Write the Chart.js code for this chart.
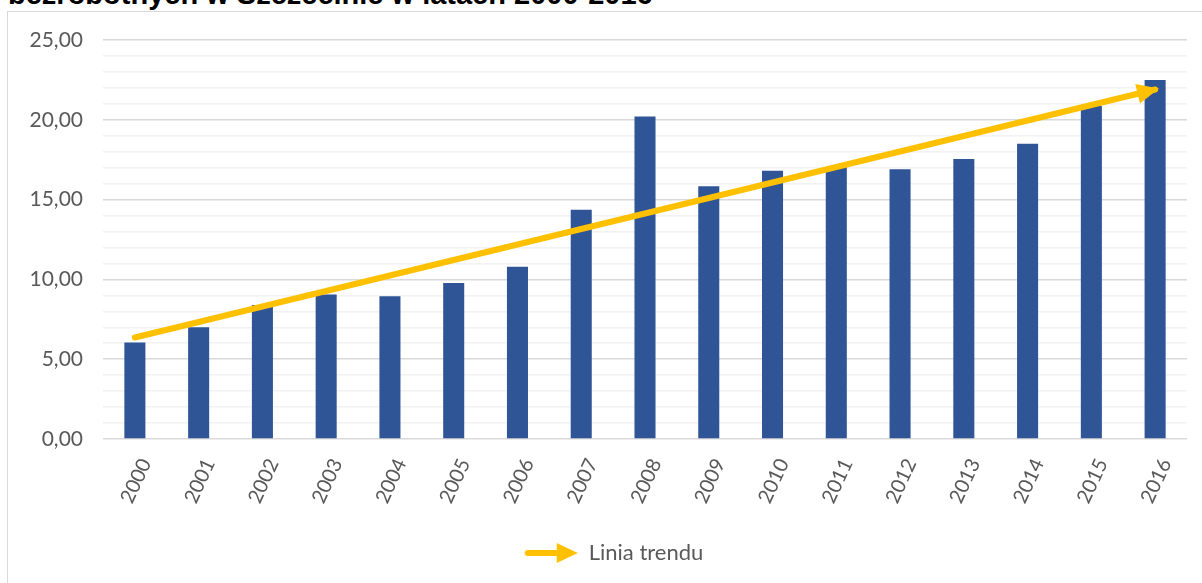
<!DOCTYPE html>
<html>
<head>
<meta charset="utf-8">
<script src="https://cdn.jsdelivr.net/npm/chart.js@4"></script>
<style>
  html, body { margin: 0; padding: 0; background: #fff; overflow: hidden; width: 1202px; height: 583px; }
  #tytul {
    position: absolute; left: 8px; top: -20px; white-space: nowrap;
    font: bold 29px "Liberation Sans", Arial, sans-serif; color: #000; line-height: 29px;
  }
  #ramka {
    position: absolute; left: 7px; top: 11px; width: 1211px; height: 580px;
    border: 1px solid #d9d9d9; background: #fff;
  }
</style>
</head>
<body>
<div id="tytul">bezrobotnych w Szczecinie w latach 2000-2016</div>
<div id="ramka"><canvas id="wykres"></canvas></div>
<script>
// lata i wartości
const lata = ['2000', '2001', '2002', '2003', '2004', '2005', '2006', '2007', '2008',
  '2009', '2010', '2011', '2012', '2013', '2014', '2015', '2016'];
const wartosci = [6.05, 7.0, 8.4, 9.05, 8.95, 9.78, 10.8, 14.37, 20.2,
  15.83, 16.81, 17.05, 16.9, 17.55, 18.5, 20.87, 22.49];
// linia trendu: tylko początek i koniec (strzałka)
const trend = [6.36, null, null, null, null, null, null, null, null,
  null, null, null, null, null, null, null, 21.9];

const NIEBIESKI = '#2F5597';
const ZOLTY = '#FFC000';
const SZARY = '#595959';

// ikonka strzałki do legendy
function ikonaStrzalki() {
  const c = document.createElement('canvas');
  c.width = 54; c.height = 22;
  const g = c.getContext('2d');
  g.strokeStyle = ZOLTY; g.fillStyle = ZOLTY;
  g.lineWidth = 6; g.lineCap = 'round';
  g.beginPath(); g.moveTo(4, 11); g.lineTo(36, 11); g.stroke();
  g.beginPath(); g.moveTo(54, 11); g.lineTo(33, 1); g.lineTo(33, 21); g.closePath(); g.fill();
  return c;
}

// grot strzałki na końcu linii trendu
const grotPlugin = {
  id: 'grot',
  afterDatasetsDraw(chart) {
    const meta = chart.getDatasetMeta(1);
    const pts = meta.data.filter((p, i) => trend[i] !== null);
    const a = pts[0], b = pts[pts.length - 1];
    const ang = Math.atan2(b.y - a.y, b.x - a.x);
    const ctx = chart.ctx;
    const dl = 22, dw = 10, ext = 4;
    const tx = b.x + Math.cos(ang) * ext, ty = b.y + Math.sin(ang) * ext;
    const bx = tx - Math.cos(ang) * dl, by = ty - Math.sin(ang) * dl;
    ctx.save();
    ctx.fillStyle = ZOLTY;
    ctx.beginPath();
    ctx.moveTo(tx, ty);
    ctx.lineTo(bx + Math.sin(ang) * dw, by - Math.cos(ang) * dw);
    ctx.lineTo(bx - Math.sin(ang) * dw, by + Math.cos(ang) * dw);
    ctx.closePath();
    ctx.fill();
    ctx.restore();
  }
};

function rysujWykres() {
  const ctx = document.getElementById('wykres').getContext('2d');
  new Chart(ctx, {
    data: {
      labels: lata,
      datasets: [{
        type: 'bar',
        label: 'Wartość',
        data: wartosci,
        backgroundColor: NIEBIESKI,
        barPercentage: 0.33,
        categoryPercentage: 1,
        order: 2
      }, {
        type: 'line',
        label: 'Linia trendu',
        data: trend,
        spanGaps: true,
        borderColor: ZOLTY,
        backgroundColor: ZOLTY,
        borderWidth: 6,
        borderCapStyle: 'round',
        pointRadius: 0,
        order: 1
      }]
    },
    options: {
      responsive: true,
      maintainAspectRatio: false,
      animation: false,
      layout: { autoPadding: false, padding: { top: 28, right: 0, left: 0, bottom: 18 } },
      plugins: {
        title: { display: false },
        tooltip: { enabled: false },
        legend: {
          position: 'bottom',
          labels: {
            color: SZARY,
            font: { family: 'Lato', size: 22 },
            usePointStyle: true,
            pointStyleWidth: 54,
            boxHeight: 20,
            padding: 10,
            generateLabels: () => [{
              text: 'Linia trendu',
              pointStyle: ikonaStrzalki(),
              fillStyle: ZOLTY,
              strokeStyle: ZOLTY,
              lineWidth: 0,
              fontColor: SZARY,
              datasetIndex: 1
            }]
          }
        }
      },
      scales: {
        x: {
          grid: { display: false, drawTicks: false },
          border: { display: false },
          ticks: {
            color: SZARY,
            font: { family: 'Lato', size: 20 },
            minRotation: 65,
            maxRotation: 65,
            autoSkip: false,
            padding: 16,
            labelOffset: 11
          },
          afterFit: (s) => { s.height = 93; }
        },
        y: {
          min: 0,
          max: 25,
          border: { display: false },
          grid: {
            drawTicks: false,
            color: (c) => (c.tick && c.tick.value % 5 === 0) ? '#d9d9d9' : '#f2f2f2',
            lineWidth: 1.5
          },
          ticks: {
            stepSize: 1,
            autoSkip: false,
            color: SZARY,
            font: { family: 'Lato', size: 21 },
            padding: 20,
            callback: (v) => v % 5 === 0 ? v.toFixed(2).replace('.', ',') : ''
          },
          afterFit: (s) => { s.width = 95; s.paddingTop = 0; s.paddingBottom = 0; }
        },
        // pusta oś po prawej, tylko żeby zostawić margines
        yPrawa: {
          position: 'right',
          grid: { display: false },
          border: { display: false },
          ticks: { display: false },
          afterFit: (s) => { s.width = 32; s.paddingTop = 0; s.paddingBottom = 0; }
        }
      }
    },
    plugins: [grotPlugin]
  });
}

document.addEventListener('DOMContentLoaded', function () {
  rysujWykres();
});
</script>
</body>
</html>
